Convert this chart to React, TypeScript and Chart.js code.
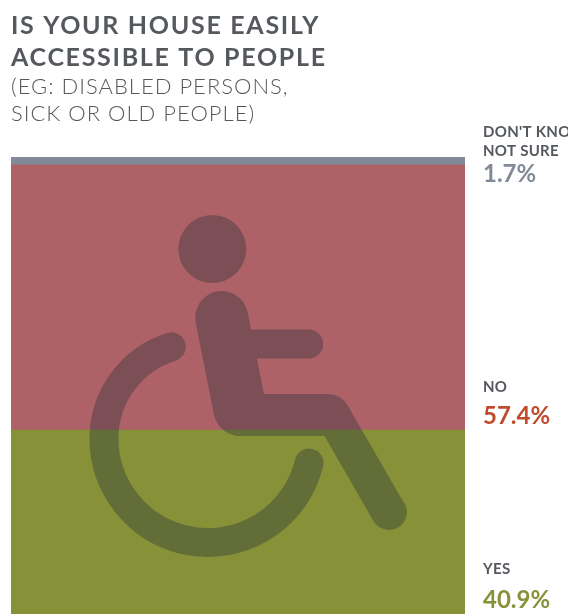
import React, { useEffect, useRef } from "react";
import { Chart, registerables } from "chart.js";

Chart.register(...registerables);

const categories = ["Accessible"];
const answers = ["YES", "NO", "DON'T KNOW/\nNOT SURE"];
const shares = [40.9, 57.4, 1.7];
const barColours = ["#879138", "#AE6268", "#828A99"];
const valueColours = ["#879138", "#BF4A2C", "#828A99"];
const titleLines = ["IS YOUR HOUSE EASILY", "ACCESSIBLE TO PEOPLE"];
const subtitleLines = ["(EG: DISABLED PERSONS,", "SICK OR OLD PEOPLE)"];

const FONT = "Lato, sans-serif";
const INK = "#55595E";

// Translucent wheelchair symbol laid over the stacked column.
const drawWheelchair = (ctx: CanvasRenderingContext2D, w: number, h: number) => {
  const layer = document.createElement("canvas");
  layer.width = w;
  layer.height = h;
  const g = layer.getContext("2d")!;
  g.fillStyle = g.strokeStyle = "#28303A";
  g.lineCap = "round";
  g.lineJoin = "round";

  // head
  g.beginPath();
  g.arc(212.3, 249, 34, 0, Math.PI * 2);
  g.fill();

  // wheel: lower sweep, then a slightly tighter upper sweep
  g.lineWidth = 29;
  g.beginPath();
  g.arc(208, 438.5, 104, Math.atan2(24.8, 102), Math.PI);
  g.arc(200, 438.5, 96, Math.PI, Math.atan2(-92.5, -29));
  g.stroke();

  // torso
  g.lineWidth = 53;
  g.beginPath();
  g.moveTo(221.7, 317.5);
  g.lineTo(240, 409.5);
  g.stroke();

  // arm
  g.lineWidth = 29;
  g.beginPath();
  g.moveTo(240, 344);
  g.lineTo(308.7, 344);
  g.stroke();

  // seat and leg
  g.beginPath();
  g.moveTo(255, 394);
  g.lineTo(328, 394);
  g.quadraticCurveTo(341, 394, 348, 406);
  g.lineTo(404, 503);
  g.arc(389, 512, 18, -0.52, 2.62);
  g.lineTo(324.5, 436);
  g.lineTo(240, 436);
  g.closePath();
  g.fill();

  ctx.save();
  ctx.globalAlpha = 0.37;
  ctx.drawImage(layer, 0, 0);
  ctx.restore();
};

// Heading, answer names and percentages drawn beside their segments.
const annotations = {
  id: "annotations",
  afterDatasetsDraw(chart: Chart) {
    const ctx = chart.ctx;
    drawWheelchair(ctx, chart.width, chart.height);

    ctx.save();
    ctx.textBaseline = "alphabetic";
    ctx.textAlign = "left";
    ctx.fillStyle = INK;
    ctx.font = `700 25px ${FONT}`;
    (ctx as any).letterSpacing = "1.7px";
    titleLines.forEach((line, i) => ctx.fillText(line, 11, 34 + i * 32));
    ctx.font = `300 22px ${FONT}`;
    (ctx as any).letterSpacing = "1px";
    subtitleLines.forEach((line, i) => ctx.fillText(line, 11, 94 + i * 27));

    // Text block anchored to each segment's lower edge.
    const valueLift = [11, 6, -17];
    const nameGap = [34, 32, 26];
    shares.forEach((share, i) => {
      const bar = chart.getDatasetMeta(i).data[0] as any;
      const valueY = bar.base - valueLift[i];
      const x = bar.x + bar.width / 2 + 18;
      ctx.fillStyle = valueColours[i];
      ctx.font = `700 24px ${FONT}`;
      (ctx as any).letterSpacing = "0px";
      ctx.fillText(`${share}%`, x, valueY);
      ctx.fillStyle = INK;
      ctx.font = `700 15px ${FONT}`;
      (ctx as any).letterSpacing = "0.3px";
      const lines = answers[i].split("\n").reverse();
      lines.forEach((line, k) => ctx.fillText(line, x, valueY - nameGap[i] - k * 19));
    });
    ctx.restore();
  },
};

export default function App() {
  const ref = useRef<HTMLCanvasElement>(null);

  useEffect(() => {
    const chart = new Chart(ref.current!, {
      type: "bar",
      data: {
        labels: categories,
        datasets: shares.map((share, i) => ({
          label: answers[i],
          data: [share],
          backgroundColor: barColours[i],
          borderWidth: 0,
          barPercentage: 1,
          categoryPercentage: 1,
        })),
      },
      options: {
        animation: false,
        responsive: false,
        devicePixelRatio: 1,
        layout: { padding: { left: 11, right: 103, top: 157, bottom: 1 } },
        plugins: { legend: { display: false }, tooltip: { enabled: false }, title: { display: false } },
        scales: {
          x: { stacked: true, display: false },
          y: { stacked: true, display: false, min: 0, max: 100 },
        },
      },
      plugins: [annotations],
    });
    return () => chart.destroy();
  }, []);

  return (
    <div style={{ position: "fixed", left: 0, top: 0, width: 568, height: 614, overflow: "hidden", background: "#fff" }}>
      <canvas ref={ref} width={568} height={620} style={{ display: "block" }} />
    </div>
  );
}
